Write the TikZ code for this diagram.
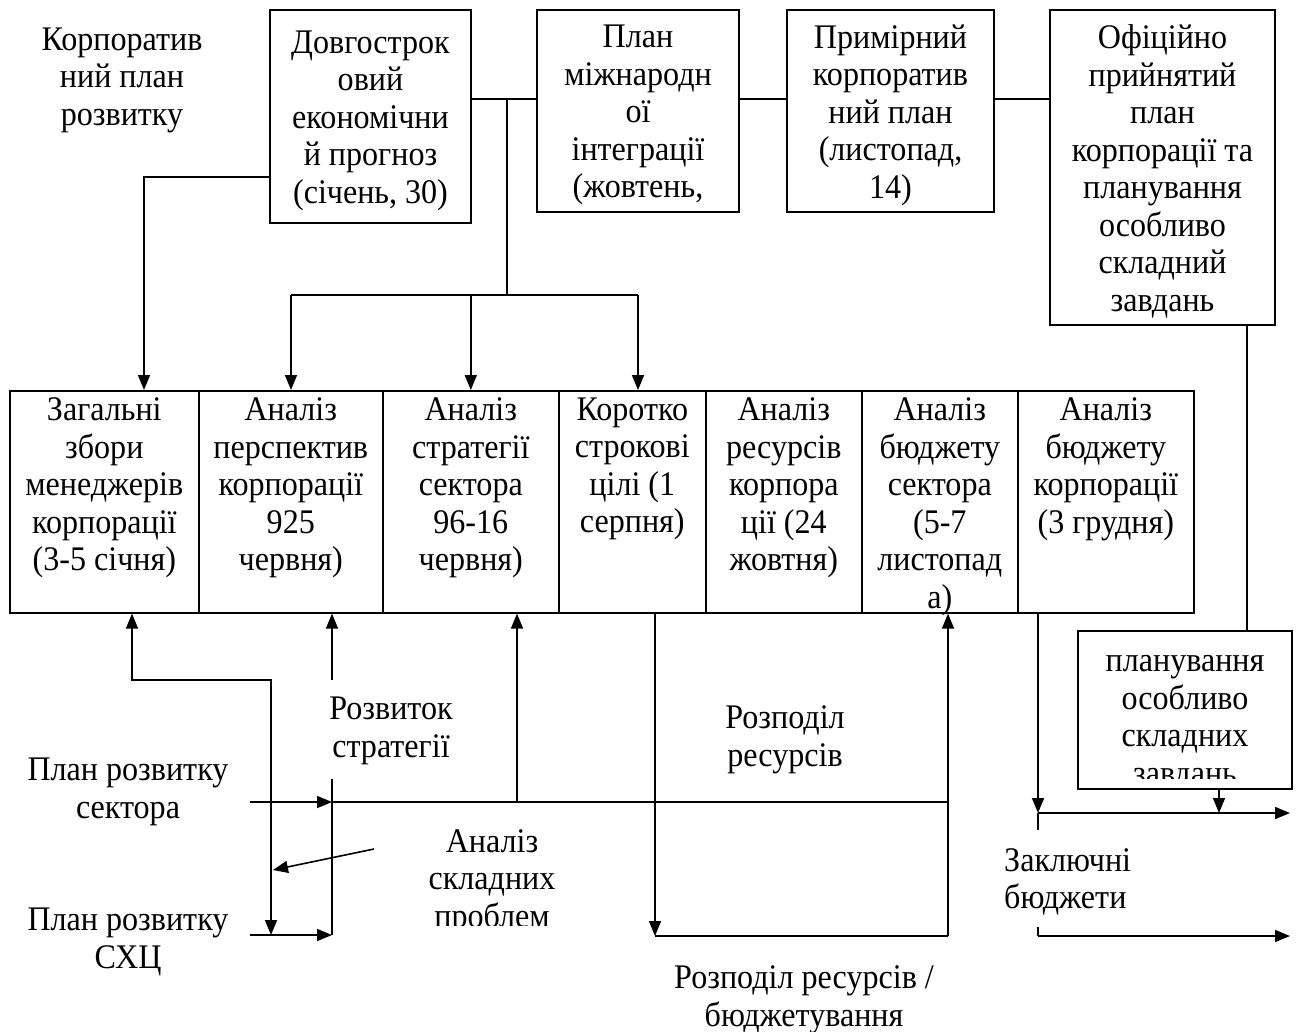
\documentclass[tikz,border=0pt]{standalone}
\usepackage{fontspec}
\setmainfont[FakeStretch=0.93]{Liberation Serif}
\usetikzlibrary{arrows.meta,calc}
\newcommand\celltxt[2]{\parbox[c][222pt][t]{#1pt}{\centering\vspace*{7pt}#2}}
\begin{document}
\begin{tikzpicture}[x=1pt,y=-1pt,
  every node/.style={font=\fontsize{34.5}{37.5}\selectfont},
  ln/.style={line width=1.6pt},
  arr/.style={ln,-{Triangle[length=15pt,width=12pt]}},
  topbox/.style={draw,line width=1.6pt,inner sep=0pt},
  toptext/.style={label={[align=center,inner sep=0pt,yshift=-4pt]center:#1}},
  cell/.style={draw,line width=1.6pt,inner sep=0pt,anchor=north west},
  lbl/.style={align=center,inner sep=0pt}]
\useasboundingbox[fill=white] (0,0) rectangle (1305,1032);
% top row
\node[lbl] (corp) at (122,80) {Корпоратив\\ний план\\розвитку};
\node[topbox,minimum width=201pt,minimum height=213pt,toptext={Довгострок\\овий\\економічни\\й прогноз\\(січень, 30)}] (b1) at (370.5,116.5) {};
\node[topbox,minimum width=202pt,minimum height=202pt,toptext={План\\міжнародн\\ої\\інтеграції\\(жовтень,}] (b2) at (638,111) {};
\node[topbox,minimum width=207pt,minimum height=202pt,toptext={Примірний\\корпоратив\\ний план\\(листопад,\\14)}] (b3) at (890.5,111) {};
\node[topbox,minimum width=225pt,minimum height=315pt,toptext={Офіційно\\прийнятий\\план\\корпорації та\\планування\\особливо\\складний\\завдань}] (b4) at (1162.5,167.5) {};
% cells
\node[cell] (c1) at (9,390) {\celltxt{189}{Загальні\\збори\\менеджерів\\корпорації\\(3-5 січня)}};
\node[cell] (c2) at (198,390) {\celltxt{184}{Аналіз\\перспектив\\корпорації\\925\\червня)}};
\node[cell] (c3) at (382,390) {\celltxt{176}{Аналіз\\стратегії\\сектора\\96-16\\червня)}};
\node[cell] (c4) at (558,390) {\celltxt{147}{Коротко\\строкові\\цілі (1\\серпня)}};
\node[cell] (c5) at (705,390) {\celltxt{156}{Аналіз\\ресурсів\\корпора\\ції (24\\жовтня)}};
\node[cell] (c6) at (861,390) {\celltxt{156}{Аналіз\\бюджету\\сектора\\(5-7\\листопад\\а)}};
\node[cell] (c7) at (1017,390) {\celltxt{176}{Аналіз\\бюджету\\корпорації\\(3 грудня)}};
% planning box
\node[draw,line width=1.6pt,minimum width=214pt,minimum height=158pt,inner sep=0pt] (pb) at (1185,710) {};
\begin{scope}
\clip (1080,633) rectangle (1290,778);
\node[lbl] (pbt) at (1185,723) {планування\\особливо\\складних\\завдань};
\end{scope}
% labels
\node[lbl] (rs) at (391,731) {Розвиток\\стратегії};
\node[lbl] (prs) at (128,792) {План розвитку\\сектора};
\node[lbl] (prc) at (128,942) {План розвитку\\СХЦ};
\begin{scope}
\clip (400,800) rectangle (600,925);
\node[lbl] (asp) at (492,882) {Аналіз\\складних\\проблем};
\end{scope}
\node[lbl] (rr) at (785,740) {Розподіл\\ресурсів};
\node[lbl] (rrb) at (804,1000) {Розподіл ресурсів /\\бюджетування};
\node[lbl,align=left,anchor=west] (zb) at (1004,882) {Заключні\\бюджети};
% coordinates
\coordinate (jy) at (0,99);
\coordinate (tap) at (507,99);
\coordinate (bus) at (507,295);
\coordinate (k1) at (144,177);
\coordinate (s1) at (132,680);
\coordinate (s2) at (271,680);
\coordinate (s3) at (271,935);
\coordinate (v1) at (332,680);
\coordinate (v2) at (332,779);
\coordinate (v3) at (332,935);
\coordinate (h1) at (250,802);
\coordinate (h2) at (332,802);
\coordinate (h3) at (948,802);
\coordinate (h4) at (517,802);
\coordinate (h5) at (250,935);
\coordinate (d1) at (374,849);
\coordinate (d2) at (273,870);
\coordinate (r1) at (655,936);
\coordinate (r2) at (948,936);
\coordinate (f1) at (1038,813);
\coordinate (f2) at (1290,813);
\coordinate (f3) at (1038,830);
\coordinate (f4) at (1038,927);
\coordinate (f5) at (1038,936);
\coordinate (f6) at (1290,936);
% top connectors
\draw[ln] (b1.east |- jy) -- (b2.west |- jy);
\draw[ln] (b2.east |- jy) -- (b3.west |- jy);
\draw[ln] (b3.east |- jy) -- (b4.west |- jy);
\draw[ln] (tap) -- (bus);
\draw[ln] (bus) -- (bus -| 291,0);
\draw[ln] (bus) -- (bus -| 638,0);
\draw[arr] (bus -| 291,0) -- (c2.north -| 291,0);
\draw[arr] (bus -| c3.north) -- (c3.north);
\draw[arr] (bus -| 638,0) -- (c4.north -| 638,0);
\draw[arr] (b1.west |- k1) -| (c1.north -| k1);
% lower connectors
\draw[ln,{Triangle[length=15pt,width=12pt]}-{Triangle[length=15pt,width=12pt]}] (c1.south -| s1) -- (s1) -- (s2) -- (s3);
\draw[arr] (v1) -- (c2.south -| v1);
\draw[ln] (v2) -- (v3);
\draw[arr] (h1) -- (h2);
\draw[ln] (h2) -- (h3);
\draw[arr] (h4) -- (c3.south -| h4);
\draw[arr] (d1) -- (d2);
\draw[arr] (h5) -- (v3);
\draw[arr] (c4.south -| r1) -- (r1);
\draw[ln] (r1) -- (r2);
\draw[arr] (r2) -- (c6.south -| r2);
\draw[arr] (c7.south -| f1) -- (f1);
\draw[arr] (f1) -- (f2);
\draw[ln] (f1) -- (f3);
\draw[ln] (f4) -- (f5);
\draw[arr] (f5) -- (f6);
\draw[line width=1.2pt] (b4.south -| 1247,0) -- (pb.north -| 1247,0);
\draw[arr] (pb.south -| 1219,0) -- (f1 -| 1219,0);
\end{tikzpicture}
\end{document}
